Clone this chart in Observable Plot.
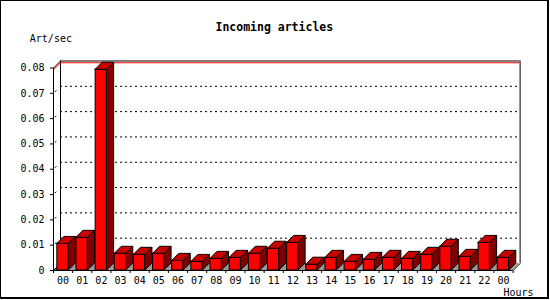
<!DOCTYPE html>
<html><head><meta charset="utf-8">
<script src="https://cdn.jsdelivr.net/npm/d3@7"></script>
<script src="https://cdn.jsdelivr.net/npm/@observablehq/plot@0.6"></script>
<style>
body{margin:0;background:#fff}
#wrap{position:relative;width:550px;height:300px;overflow:hidden;background:#fff}
#border{position:absolute;left:0;top:0;width:549px;height:299px;box-sizing:border-box;border:1px solid #000;border-right-width:2px;border-bottom-width:2px;pointer-events:none}
</style></head><body>
<div id="wrap"><div id="border"></div></div>
<script>
// ---- data ----
const title = "Incoming articles";
const yLabel = "Art/sec";
const xLabel = "Hours";
const hourLabels = ["00","01","02","03","04","05","06","07","08","09","10","11","12","13","14","15","16","17","18","19","20","21","22","00"];
const rates = [0.0105,0.0129,0.0793,0.0066,0.0062,0.0066,0.0038,0.0034,0.0046,0.0050,0.0066,0.0086,0.0109,0.0023,0.0050,0.0034,0.0042,0.0050,0.0046,0.0062,0.0094,0.0054,0.0109,0.0050];
const yTicks = [0,0.01,0.02,0.03,0.04,0.05,0.06,0.07,0.08];
const yTickLabels = ["0","0.01","0.02","0.03","0.04","0.05","0.06","0.07","0.08"];

// ---- layout ----
const W = 550, H = 300, mL = 53, mR = 37.4, mT = 67.5, mB = 30;
const n = rates.length;
const yMax = yTicks[yTicks.length - 1];
const pxX = (W - mL - mR) / n, pxY = (H - mT - mB) / yMax;
const depth = 7, barPx = 11.5;
const dX = depth / pxX, dY = depth / pxY, bw = barPx / pxX;
const vMax = d3.max(rates);

const bars = rates.map((v, i) => ({i, v, x1: i + 0.5 - bw / 2, x2: i + 0.5 + bw / 2}));
const sides = bars.flatMap(b => [
  {id: b.i, x: b.x2, y1: 0, y2: b.v},
  {id: b.i, x: b.x2 + dX, y1: dY, y2: b.v + dY}
]);
const tops = bars.flatMap(b => [
  {id: b.i, x: b.x1, y1: b.v, y2: b.v},
  {id: b.i, x: b.x1 + dX, y1: b.v, y2: b.v + dY},
  {id: b.i, x: b.x2, y1: b.v, y2: b.v + dY},
  {id: b.i, x: b.x2 + dX, y1: b.v + dY, y2: b.v + dY}
]);
const floor = [
  {x: 0, y1: 0, y2: 0},
  {x: dX, y1: 0, y2: dY},
  {x: n, y1: 0, y2: dY},
  {x: n + dX, y1: dY, y2: dY}
];
const grid = yTicks.filter(t => t > 0 && t < yMax);

const font = "DejaVu Sans Mono";
const chart = Plot.plot({
  width: W, height: H,
  marginLeft: mL, marginRight: mR, marginTop: mT, marginBottom: mB,
  x: {domain: [0, n], axis: null},
  y: {domain: [0, yMax], axis: null},
  style: {fontFamily: font, fontSize: "10px", background: "white", color: "black"},
  marks: [
    // back wall grid
    Plot.ruleY(grid, {x1: 0, x2: n, dx: depth, dy: -depth, stroke: "black", strokeDasharray: "2,3"}),
    Plot.link(grid, {x1: 0, y1: d => d, x2: dX, y2: d => d + dY, stroke: "black", strokeDasharray: "0,2,2,10"}),
    // back wall frame
    Plot.ruleX([0, n], {y1: 0, y2: yMax, dx: depth, dy: -depth, stroke: "black"}),
    Plot.ruleY([yMax], {x1: 0, x2: n, dx: depth, dy: -depth, stroke: "black"}),
    // max line
    Plot.ruleY([vMax], {x1: 0, x2: n, dx: depth, dy: -depth, stroke: "red"}),
    Plot.link([vMax], {x1: 0, y1: d => d, x2: dX, y2: d => d + dY, stroke: "red"}),
    // floor
    Plot.area(floor, {x1: "x", y1: "y1", y2: "y2", fill: "#999999"}),
    Plot.link([0, n], {x1: d => d, y1: 0, x2: d => d + dX, y2: dY, stroke: "black"}),
    // bars
    Plot.rect(bars, {x1: "x1", x2: "x2", y1: 0, y2: "v", fill: "#ff0000", stroke: "black"}),
    Plot.area(sides, {x1: "x", y1: "y1", y2: "y2", z: "id", fill: "#800000", stroke: "black"}),
    Plot.area(tops, {x1: "x", y1: "y1", y2: "y2", z: "id", fill: "#c80000", stroke: "black"}),
    // front axes
    Plot.ruleX([0], {y1: 0, y2: yMax, stroke: "black"}),
    Plot.ruleY([0], {x1: 0, x2: n, stroke: "black"}),
    Plot.link([yMax], {x1: 0, y1: d => d, x2: dX, y2: d => d + dY, stroke: "black"}),
    // ticks
    Plot.ruleY(yTicks, {x1: -3 / pxX, x2: 0, stroke: "black"}),
    Plot.ruleX(d3.range(n + 1), {y1: 0, y2: -3 / pxY, stroke: "black"}),
    // labels
    Plot.text(yTicks, {x: 0, y: d => d, text: (d, i) => yTickLabels[i], textAnchor: "end", lineAnchor: "middle", dx: -9, fontSize: 10, fill: "black"}),
    Plot.text(hourLabels, {x: (d, i) => i + 0.5, y: 0, text: d => d, lineAnchor: "middle", dy: 10.5, fontSize: 10, fill: "black"}),
    Plot.text([xLabel], {x: n, y: 0, text: d => d, textAnchor: "end", lineAnchor: "middle", dx: 20.5, dy: 22.5, fontSize: 10, fill: "black"}),
    Plot.text([yLabel], {frameAnchor: "top-left", text: d => d, textAnchor: "start", lineAnchor: "middle", dx: 29.3 - mL, dy: 38 - mT, fontSize: 10, fill: "black"}),
    Plot.text([title], {frameAnchor: "top-left", text: d => d, textAnchor: "middle", lineAnchor: "middle", dx: 273.8 - mL, dy: 26.8 - mT, fontSize: 11.5, fontWeight: "bold", fill: "black"})
  ]
});
document.getElementById("wrap").insertBefore(chart, document.getElementById("border"));
</script>
</body></html>
